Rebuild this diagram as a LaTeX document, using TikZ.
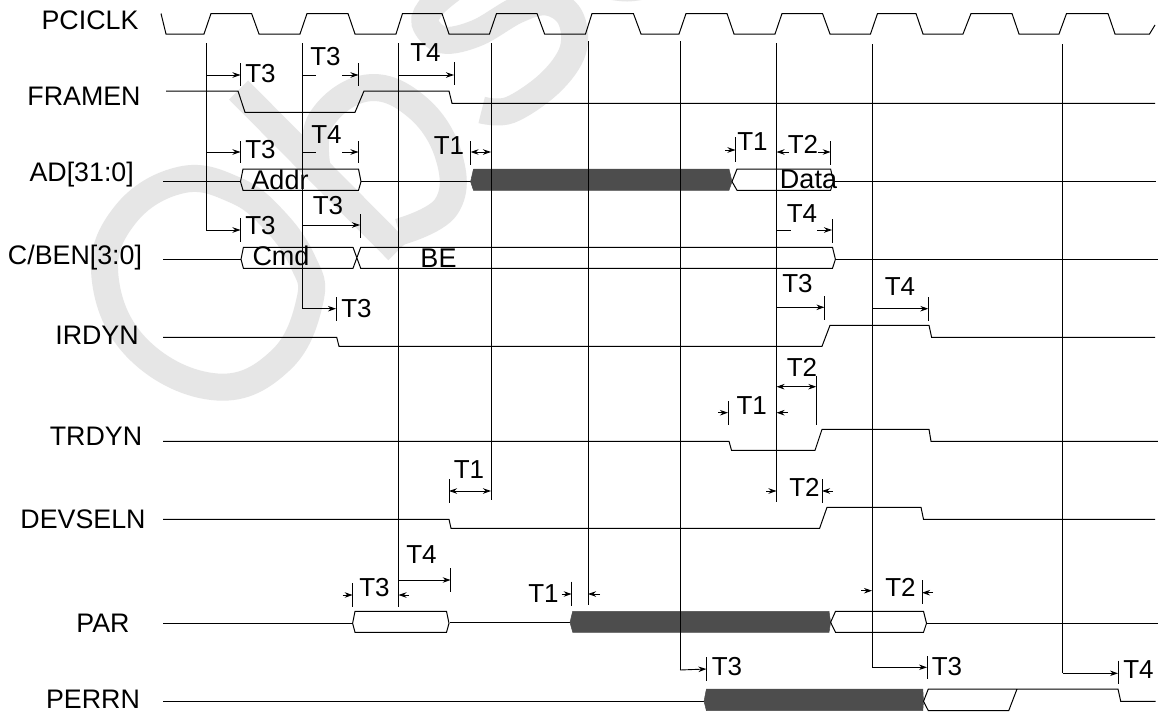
\documentclass[tikz,border=0pt]{standalone}
\usepackage{fontspec}
\setmainfont{Liberation Sans}
\usetikzlibrary{arrows.meta}
\definecolor{wmark}{HTML}{E6E6E6}
\definecolor{busdark}{HTML}{4D4D4D}
\tikzset{
  wm/.style={draw=wmark,line width=27pt},
  wave/.style={draw=black,line width=1pt},
  bus/.style={draw=black,line width=1pt,line join=miter},
  darkbus/.style={draw=busdark,fill=busdark,line width=0.5pt},
  guide/.style={draw=black,line width=1pt},
  tick/.style={draw=black,line width=1pt},
  dim/.style={draw=black,line width=0.9pt,-{Stealth[length=8pt,width=5.5pt]}},
  dimb/.style={draw=black,line width=0.9pt,{Stealth[length=8pt,width=5.5pt]}-{Stealth[length=8pt,width=5.5pt]}},
  stub/.style={draw=black,line width=0.9pt},
  sig/.style={font=\fontsize{26.8}{27}\selectfont,inner sep=0pt,anchor=center},
  tm/.style={font=\fontsize{26}{27}\selectfont,inner sep=0pt,anchor=center},
  bl/.style={font=\fontsize{27}{28}\selectfont,inner sep=0pt,anchor=center},
}
\begin{document}
\begin{tikzpicture}[x=1pt,y=-1pt]
\useasboundingbox (0,0) rectangle (1158,712);
\fill[white] (0,0) rectangle (1158,712);
% watermark
\begin{scope}
\clip (0,0) rectangle (1158,712);
\draw[wm] plot[smooth cycle,tension=0.7] coordinates {(105,277) (125,215) (181,180) (235,190) (274,220) (303,262) (310,300) (281,360) (217,387) (139,350)};
\draw[wm] (238.6,90) -- (398,250.7);
\draw[wm] plot[smooth,tension=0.7] coordinates {(317,167) (321,120) (367,88) (417,107) (449,157) (446,207) (399,232)};
\draw[wm] plot[smooth,tension=0.6] coordinates {(481.7,110) (510,110) (550,83) (573,50) (570,17) (547,2) (517,10) (477,33) (443,40) (425,23) (433,5) (453,-12)};
\draw[wm] plot[smooth,tension=0.6] coordinates {(590,-18) (627,-12) (660,-18)};
\end{scope}
% labels
\node[sig] (lclk) at (90,20.7) {PCICLK};
\node[sig] (lframe) at (84,96.7) {FRAMEN};
\node[sig] (lad) at (81.7,175) {AD[31:0]};
\node[sig] (lcbe) at (75,258) {C/BEN[3:0]};
\node[sig] (lirdy) at (97,335) {IRDYN};
\node[sig] (ltrdy) at (96,436.7) {TRDYN};
\node[sig] (ldevsel) at (83,519) {DEVSELN};
\node[sig] (lpar) at (103,623) {PAR};
\node[sig] (lperr) at (93,699) {PERRN};
% clock
\draw[wave] (161,13.5) -- (166,34) -- (204,34) -- (211,13.5) -- (251.6,13.5) -- (259,34) -- (300,34) -- (307,13.5) -- (348,13.5) -- (355,34) -- (396,34) -- (402.5,13.5) -- (442,13.5) -- (449,34) -- (489.5,34) -- (496.5,13.5) -- (537,13.5) -- (544.6,34) -- (585.5,34) -- (592,13.5) -- (633.4,13.5) -- (641,34) -- (679,34) -- (686,13.5) -- (727,13.5) -- (734,34) -- (775,34) -- (782,13.5) -- (822.5,13.5) -- (830,34) -- (870.5,34) -- (877.5,13.5) -- (916,13.5) -- (923,34) -- (963,34) -- (971,13.5) -- (1012,13.5) -- (1019,34) -- (1059,34) -- (1066.5,13.5) -- (1108,13.5) -- (1115,34) -- (1149.5,34) -- (1155,25);
% FRAMEN
\draw[wave] (166,91) -- (238,91) -- (245,112.3) -- (355,112.3) -- (364,91) -- (449,91) -- (452,103.3) -- (1155,103.3);
% AD
\draw[wave] (163,181.6) -- (240.5,181.6);
\draw[bus] (243,190.3) -- (240.5,181.6) -- (243,169) -- (358.5,169) -- (361,181.6) -- (358.5,190.3) -- cycle;
\draw[wave] (361,181.6) -- (470.6,181.6);
\draw[darkbus] (470.6,181.6) -- (473.5,169) -- (729,169) -- (732,181.6) -- (729,190.3) -- (473.5,190.3) -- cycle;
\draw[bus] (830.6,190.3) -- (737,190.3) -- (732,181.6) -- (737,169) -- (830.6,169) -- (833.5,181.6) -- cycle;
\draw[wave] (833.5,181.6) -- (1156,181.6);
% C/BE
\draw[wave] (163,259.3) -- (241,259.3);
\draw[bus] (353,247.3) -- (243.4,247.3) -- (241,259.3) -- (243.4,268.3) -- (353,268.3) -- (360.7,247.3) -- (832.5,247.3) -- (835.4,259.3) -- (832.5,268.3) -- (360.7,268.3) -- (353,247.3);
\draw[wave] (835.4,259.3) -- (1158,259.3);
% IRDYN
\draw[wave] (163,337.3) -- (336.7,337.3) -- (339,346.3) -- (822,346.3) -- (830,325.3) -- (929,325.3) -- (931.6,337.3) -- (1155,337.3);
% TRDYN
\draw[wave] (163,441.3) -- (729,441.3) -- (731.5,450.3) -- (815,450.3) -- (822,429.3) -- (929,429.3) -- (931,441.3) -- (1158,441.3);
% DEVSELN
\draw[wave] (163,519.3) -- (449,519.3) -- (451,528.3) -- (819.6,528.3) -- (827,507.3) -- (921,507.3) -- (923.5,519.3) -- (1155,519.3);
% PAR
\draw[wave] (163,623.3) -- (352.6,623.3);
\draw[bus] (355,632.3) -- (352.6,623.3) -- (355,611.3) -- (446.5,611.3) -- (449,623.3) -- (446.5,632.3) -- cycle;
\draw[wave] (450,622.3) -- (570,622.3);
\draw[darkbus] (570,622.3) -- (572.7,611.3) -- (829,611.3) -- (830.6,622.3) -- (829,632.3) -- (572.7,632.3) -- cycle;
\draw[bus] (923.5,632.3) -- (835.5,632.3) -- (830.6,622.3) -- (835.5,611.3) -- (923.5,611.3) -- (926.5,623.3) -- cycle;
\draw[wave] (926.5,623.3) -- (1158,623.3);
% PERRN
\draw[wave] (163,701.3) -- (704,701.3);
\draw[darkbus] (704,701.3) -- (706.4,689) -- (922.8,689) -- (923.5,701.3) -- (922.8,710.7) -- (706.4,710.7) -- cycle;
\draw[bus] (1017,689) -- (1008.7,710.7) -- (928.3,710.7) -- (923.5,701.3) -- (928.3,689) -- (1118,689) -- (1120.7,701.3) -- (1155.7,701.3);
% guides with elbows
\coordinate (g1t) at (206.4,43);
\coordinate (g1e) at (206.4,230);
\coordinate (g2t) at (302,43);
\coordinate (g2e) at (302,308.7);
\coordinate (g3t) at (398.5,43);
\coordinate (g3b) at (398.5,606.7);
\coordinate (g4t) at (491,43);
\coordinate (g4b) at (491,500);
\coordinate (g5t) at (588,41);
\coordinate (g5b) at (588,605);
\coordinate (g6t) at (680,41);
\coordinate (g6e) at (680,670);
\coordinate (g7t) at (776.5,43);
\coordinate (g7b) at (776.5,502);
\coordinate (g8t) at (872,44);
\coordinate (g8e) at (872,667.3);
\coordinate (g9t) at (1062.5,44);
\coordinate (g9e) at (1062.5,673.3);
\draw[guide] (g1t) -- (g1e);
\draw[guide] (g2t) -- (g2e);
\draw[guide] (g3t) -- (g3b);
\draw[guide] (g4t) -- (g4b);
\draw[guide] (g5t) -- (g5b);
\draw[guide] (g6t) -- (g6e);
\draw[guide] (g7t) -- (g7b);
\draw[guide] (g8t) -- (g8e);
\draw[guide] (g9t) -- (g9e);
% elbows
\draw[dim] (g1e) -- (240.5,230);
\draw[dim] (g2e) -- (336,308.7);
\draw[dim] (g6e) -- (706.4,669);
\draw[dim] (g8e) -- (927,667.3);
\draw[dim] (g9e) -- (1118,673.3);
% ticks
\foreach \x/\a/\b in {240.5/63/86, 358.5/63/86, 454/62/85, 240.5/141/163, 358.5/141/163, 470.6/141/165, 735.5/137/162, 830.6/141/165, 240.5/218/242, 360/214/238, 832/219/242.7, 336/297/320.7, 824.4/296/320, 928.3/297/321, 728/401/425, 816.3/375.7/425, 449/479/502.7, 822/479/502.7, 352.6/583/606.7, 450.6/568/591.7, 571.6/581.7/606, 922/580/604, 706.4/657/680.7, 927/656/679, 1118/660.7/684.3}
  \draw[tick] (\x,\a) -- (\x,\b);
% FRAMEN row dims
\draw[dim] (206.4,75) -- (240.5,75);
\draw[stub] (302,75) -- (316,75);
\draw[dim] (342,75) -- (358.5,75);
\draw[dim] (398.5,75) -- (454,75);
% AD row dims
\draw[dim] (206.4,152) -- (240.5,152);
\draw[stub] (302,152) -- (316,152);
\draw[dim] (342,152) -- (358.5,152);
\draw[dimb] (470.6,152) -- (491,152);
\draw[dim] (725,150) -- (735.5,150);
\draw[dim] (789,152) -- (776.5,152);
\draw[dim] (818,152) -- (830.6,152);
% C/BE row dims
\draw[dim] (302,225) -- (360,225);
\draw[stub] (776.5,230) -- (791,230);
\draw[dim] (817,230) -- (832,230);
% IRDY row
\draw[dim] (776.5,307.3) -- (824.4,307.3);
\draw[dim] (872,308.7) -- (928.3,308.7);
% TRDY row
\draw[dim] (718,412.7) -- (728,412.7);
\draw[dim] (787.5,412.7) -- (776.5,412.7);
\draw[dimb] (776.5,386.7) -- (816.3,386.7);
% DEVSEL row
\draw[dimb] (449,491) -- (491,491);
\draw[dim] (766,491) -- (776.5,491);
\draw[dim] (832.5,491) -- (822,491);
% PAR row
\draw[dim] (342.6,595) -- (352.6,595);
\draw[dim] (409,595) -- (398.5,595);
\draw[dim] (398.5,580) -- (450.6,580);
\draw[dim] (561.6,594) -- (571.6,594);
\draw[dim] (600,594) -- (588,594);
\draw[dim] (861,590.7) -- (872,590.7);
\draw[dim] (933,592.7) -- (922,592.7);
% timing labels
\node[tm] (t01) at (260.5,74) {T3};
\node[tm] (t02) at (325.5,57) {T3};
\node[tm] (t03) at (425.5,53) {T4};
\node[tm] (t04) at (260.5,150) {T3};
\node[tm] (t05) at (326.5,135) {T4};
\node[tm] (t06) at (449,146) {T1};
\node[tm] (t07) at (752.5,142) {T1};
\node[tm] (t08) at (803,144) {T2};
\node[tm] (t09) at (260.5,225.7) {T3};
\node[tm] (t10) at (328,205.7) {T3};
\node[tm] (t11) at (802,214) {T4};
\node[tm] (t12) at (356.5,309) {T3};
\node[tm] (t13) at (797.5,284) {T3};
\node[tm] (t14) at (900,286.7) {T4};
\node[tm] (t15) at (751.7,405.7) {T1};
\node[tm] (t16) at (802,367.7) {T2};
\node[tm] (t17) at (469,470) {T1};
\node[tm] (t18) at (804.5,487) {T2};
\node[tm] (t19) at (374.5,587.3) {T3};
\node[tm] (t20) at (421.5,555) {T4};
\node[tm] (t21) at (543.5,593.3) {T1};
\node[tm] (t22) at (900.5,587.3) {T2};
\node[tm] (t23) at (727,666.7) {T3};
\node[tm] (t24) at (947,667) {T3};
\node[tm] (t25) at (1138.5,670) {T4};
% bus labels
\node[bl] (addr) at (280,180) {Addr};
\node[bl] (data) at (808.5,179) {Data};
\node[bl] (cmd) at (281,256) {Cmd};
\node[bl] (be) at (438.5,258) {BE};
\end{tikzpicture}
\end{document}
